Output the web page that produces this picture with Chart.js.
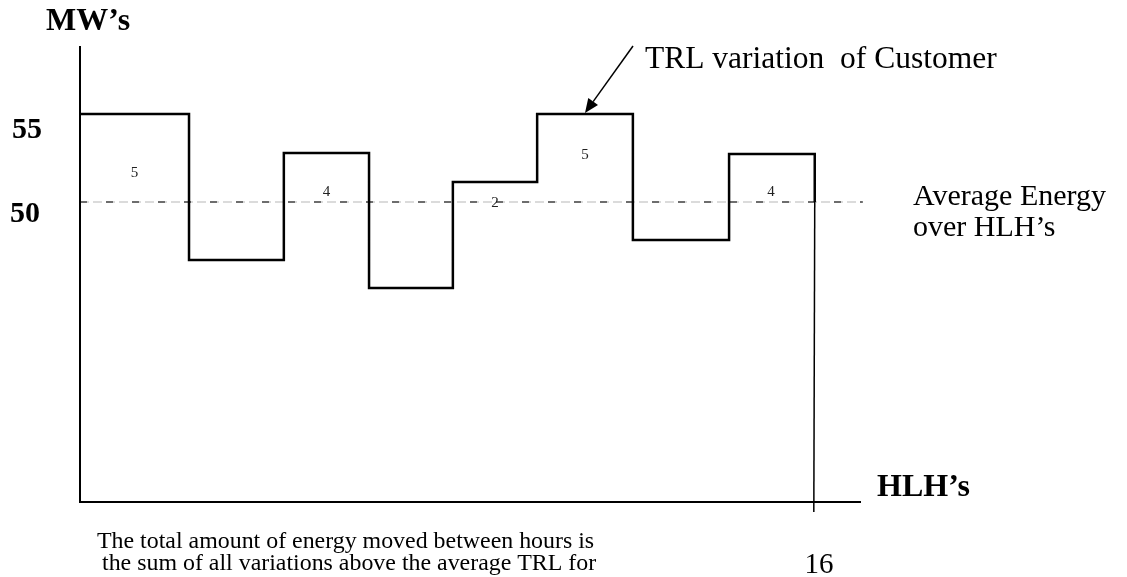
<!DOCTYPE html>
<html>
<head>
<meta charset="utf-8">
<script src="https://cdn.jsdelivr.net/npm/chart.js@4/dist/chart.umd.min.js"></script>
<style>
html,body{margin:0;padding:0;background:#fff;}
#wrap{width:1127px;height:577px;position:relative;}
</style>
</head>
<body>
<div id="wrap"><canvas id="c" width="1127" height="577"></canvas></div>
<script>
// ---- data ----
const hourBoundaries = [0, 2.38, 4.45, 6.31, 8.14, 9.98, 12.07, 14.17, 16];
const trlValues = [55, 46.7, 52.78, 45.11, 51.14, 55, 47.84, 52.73];
const averageEnergy = 50;
const dropEnd = 32.39;
const variationSegments = [0, 2, 4, 5, 7];
const variationLabels = ['5', '4', '2', '5', '4'];
const yTickLabels = ['55', '50'];
const yTickValues = [55, 50];
const xTickLabel = '16';
const xTickValue = 16;

const SERIF = '"Liberation Serif","DejaVu Serif",serif';

// step points: value i starts at boundary i
const stepPts = [];
for (let i = 0; i < trlValues.length; i++) stepPts.push({x: hourBoundaries[i], y: trlValues[i]});
stepPts.push({x: hourBoundaries[hourBoundaries.length - 1], y: trlValues[trlValues.length - 1]});
stepPts.push({x: hourBoundaries[hourBoundaries.length - 1] + 0.04, y: averageEnergy});

const X_MAX = 17.05, Y_MIN = 32.955, Y_MAX = 58.864;

const overlay = {
  id: 'overlay',
  afterDatasetsDraw(chart) {
    const ctx = chart.ctx, xs = chart.scales.x, ys = chart.scales.y;
    const ca = chart.chartArea;
    ctx.save();
    // axes
    ctx.strokeStyle = '#000'; ctx.lineWidth = 2; ctx.setLineDash([]);
    ctx.beginPath();
    ctx.moveTo(ca.left, ca.top); ctx.lineTo(ca.left, ca.bottom); ctx.lineTo(ca.right, ca.bottom);
    ctx.stroke();
    // axis titles
    ctx.fillStyle = '#000';
    ctx.textBaseline = 'alphabetic';
    ctx.font = 'bold 32px ' + SERIF; ctx.textAlign = 'left';
    ctx.fillText('MW\u2019s', 46, 30);
    ctx.fillText('HLH\u2019s', 877, 496);
    // y tick labels
    ctx.font = 'bold 30px ' + SERIF; ctx.textAlign = 'left';
    const yOff = [24, 20];
    yTickLabels.forEach((t, i) => {
      ctx.fillText(t, i === 0 ? 12 : 10, ys.getPixelForValue(yTickValues[i]) + yOff[i]);
    });
    // x tick label
    ctx.font = '29px ' + SERIF; ctx.textAlign = 'center';
    ctx.fillText(xTickLabel, xs.getPixelForValue(xTickValue) + 6, 573);
    // variation labels
    ctx.font = '15px ' + SERIF; ctx.textAlign = 'center'; ctx.textBaseline = 'middle';
    const labY = [173, 192, 203, 155, 192];
    variationSegments.forEach((s, i) => {
      const cx = (xs.getPixelForValue(hourBoundaries[s]) + xs.getPixelForValue(hourBoundaries[s + 1])) / 2;
      ctx.fillStyle = '#222';
      ctx.fillText(variationLabels[i], cx, labY[i]);
    });
    // annotations
    ctx.fillStyle = '#000'; ctx.textBaseline = 'alphabetic'; ctx.textAlign = 'left';
    ctx.font = '31.5px ' + SERIF;
    ctx.fillText('TRL variation  of Customer', 645, 68);
    ctx.font = '30px ' + SERIF;
    ctx.fillText('Average Energy', 913, 205);
    ctx.fillText('over HLH\u2019s', 913, 236);
    ctx.font = '23.9px ' + SERIF;
    ctx.fillText('The total amount of energy moved between hours is', 97, 548);
    ctx.fillText('the sum of all variations above the average TRL for', 102, 570);
    // arrow
    const x1 = 633, y1 = 46, x2 = 585, y2 = 113;
    ctx.strokeStyle = '#000'; ctx.lineWidth = 1.5;
    const ang = Math.atan2(y2 - y1, x2 - x1);
    const hl = 14, hw = 6;
    const bx = x2 - hl * Math.cos(ang), by = y2 - hl * Math.sin(ang);
    ctx.beginPath(); ctx.moveTo(x1, y1); ctx.lineTo(bx, by); ctx.stroke();
    ctx.beginPath();
    ctx.moveTo(x2, y2);
    ctx.lineTo(bx + hw * Math.sin(ang), by - hw * Math.cos(ang));
    ctx.lineTo(bx - hw * Math.sin(ang), by + hw * Math.cos(ang));
    ctx.closePath(); ctx.fill();
    ctx.restore();
  }
};

new Chart(document.getElementById('c'), {
  type: 'line',
  data: {
    datasets: [
      {
        label: 'Average (gray)',
        data: [{x: 0, y: averageEnergy}, {x: 17.09, y: averageEnergy}],
        borderColor: '#b8b8b8', borderWidth: 1.2, borderDash: [9, 4],
        pointRadius: 0, clip: false, order: 3
      },
      {
        label: 'Average (black)',
        data: [{x: 0, y: averageEnergy}, {x: 17.09, y: averageEnergy}],
        borderColor: '#000', borderWidth: 1.2, borderDash: [7, 19], borderDashOffset: -52,
        pointRadius: 0, clip: false, order: 2
      },
      {
        label: 'TRL variation of Customer',
        data: stepPts,
        stepped: 'before',
        borderColor: '#000', borderWidth: 2.5,
        pointRadius: 0, clip: false, order: 1
      },
      {
        label: 'drop',
        data: [{x: hourBoundaries[8] + 0.04, y: averageEnergy}, {x: hourBoundaries[8] + 0.02, y: dropEnd}],
        borderColor: '#000', borderWidth: 1.5,
        pointRadius: 0, clip: false, order: 1
      }
    ]
  },
  options: {
    responsive: false,
    animation: false,
    layout: {padding: {left: 80, top: 46, right: 1127 - 861, bottom: 577 - 502}},
    plugins: {legend: {display: false}, tooltip: {enabled: false}},
    scales: {
      x: {type: 'linear', min: 0, max: X_MAX, display: false},
      y: {type: 'linear', min: Y_MIN, max: Y_MAX, display: false}
    }
  },
  plugins: [overlay]
});
</script>
</body>
</html>
